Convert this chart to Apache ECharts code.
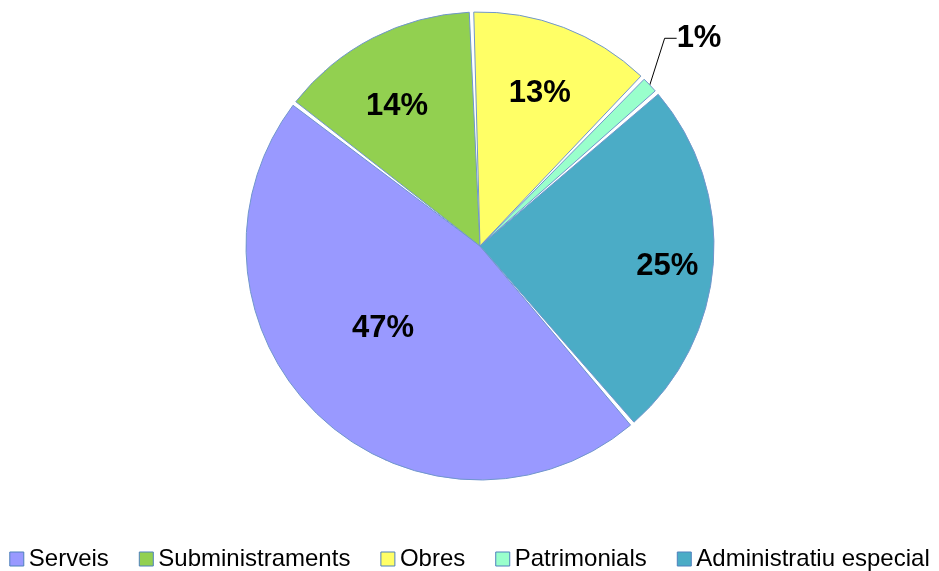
<!DOCTYPE html>
<html>
<head>
<meta charset="utf-8">
<script src="https://cdn.jsdelivr.net/npm/echarts@6/dist/echarts.min.js"></script>
<style>
html, body { margin: 0; padding: 0; background: #fff; }
#chart { width: 939px; height: 571px; }
</style>
</head>
<body>
<div id="chart"></div>
<script>
// dades del gràfic
var categories = ["Serveis", "Subministraments", "Obres", "Patrimonials", "Administratiu especial"];
var values = [46.7, 14.0, 12.8, 1.4, 25.1];
var colors = ["#9999ff", "#92d050", "#ffff66", "#99ffcc", "#4bacc6"];
// posició de les etiquetes: fracció del radi i desplaçament angular (graus)
var labelDist = [0.543, 0.692, 0.702, 1.29, 0.805];
var labelShift = [6.3, -3.5, 0.4, 0, 2.1];

var cx = 480, cy = 246, R = 234;
var startAngle = -49.4;

var total = values.reduce(function (a, b) { return a + b; }, 0);

function labelPos(i) {
    var before = 0;
    for (var j = 0; j < i; j++) before += values[j];
    var frac = (before + values[i] / 2) / total;
    var theta = ((90 - startAngle) + frac * 360 + labelShift[i]) * Math.PI / 180;
    return {
        x: cx + labelDist[i] * R * Math.sin(theta),
        y: cy - labelDist[i] * R * Math.cos(theta)
    };
}

var chart = echarts.init(document.getElementById("chart"));
chart.setOption({
    animation: false,
    color: colors,
    legend: {
        top: 542,
        left: "center",
        icon: "rect",
        itemWidth: 14,
        itemHeight: 14,
        itemGap: 30,
        data: categories,
        itemStyle: {
            borderColor: "#4f81bd",
            borderWidth: 1
        },
        textStyle: {
            fontFamily: "Liberation Sans",
            fontSize: 24,
            color: "#000"
        }
    },
    series: [
        {
            type: "pie",
            center: [cx, cy],
            radius: R,
            startAngle: startAngle,
            clockwise: true,
            padAngle: 1.1,
            itemStyle: {
                borderColor: "#7096cc",
                borderWidth: 1
            },
            label: {
                show: true,
                position: "inside",
                formatter: function (p) {
                    return Math.round(p.value) + "%";
                },
                fontFamily: "Liberation Sans",
                fontWeight: "bold",
                fontSize: 31,
                color: "#000"
            },
            labelLine: {
                show: true,
                lineStyle: { color: "#000", width: 1 }
            },
            labelLayout: function (params) {
                var p = labelPos(params.dataIndex);
                return {
                    x: p.x,
                    y: p.y,
                    align: "center",
                    verticalAlign: "middle"
                };
            },
            data: categories.map(function (name, i) {
                var item = { name: name, value: values[i] };
                if (name === "Patrimonials") {
                    item.label = { position: "outside" };
                    item.labelLine = { show: true, length: 30, length2: 12 };
                }
                return item;
            })
        }
    ]
});
</script>
</body>
</html>
